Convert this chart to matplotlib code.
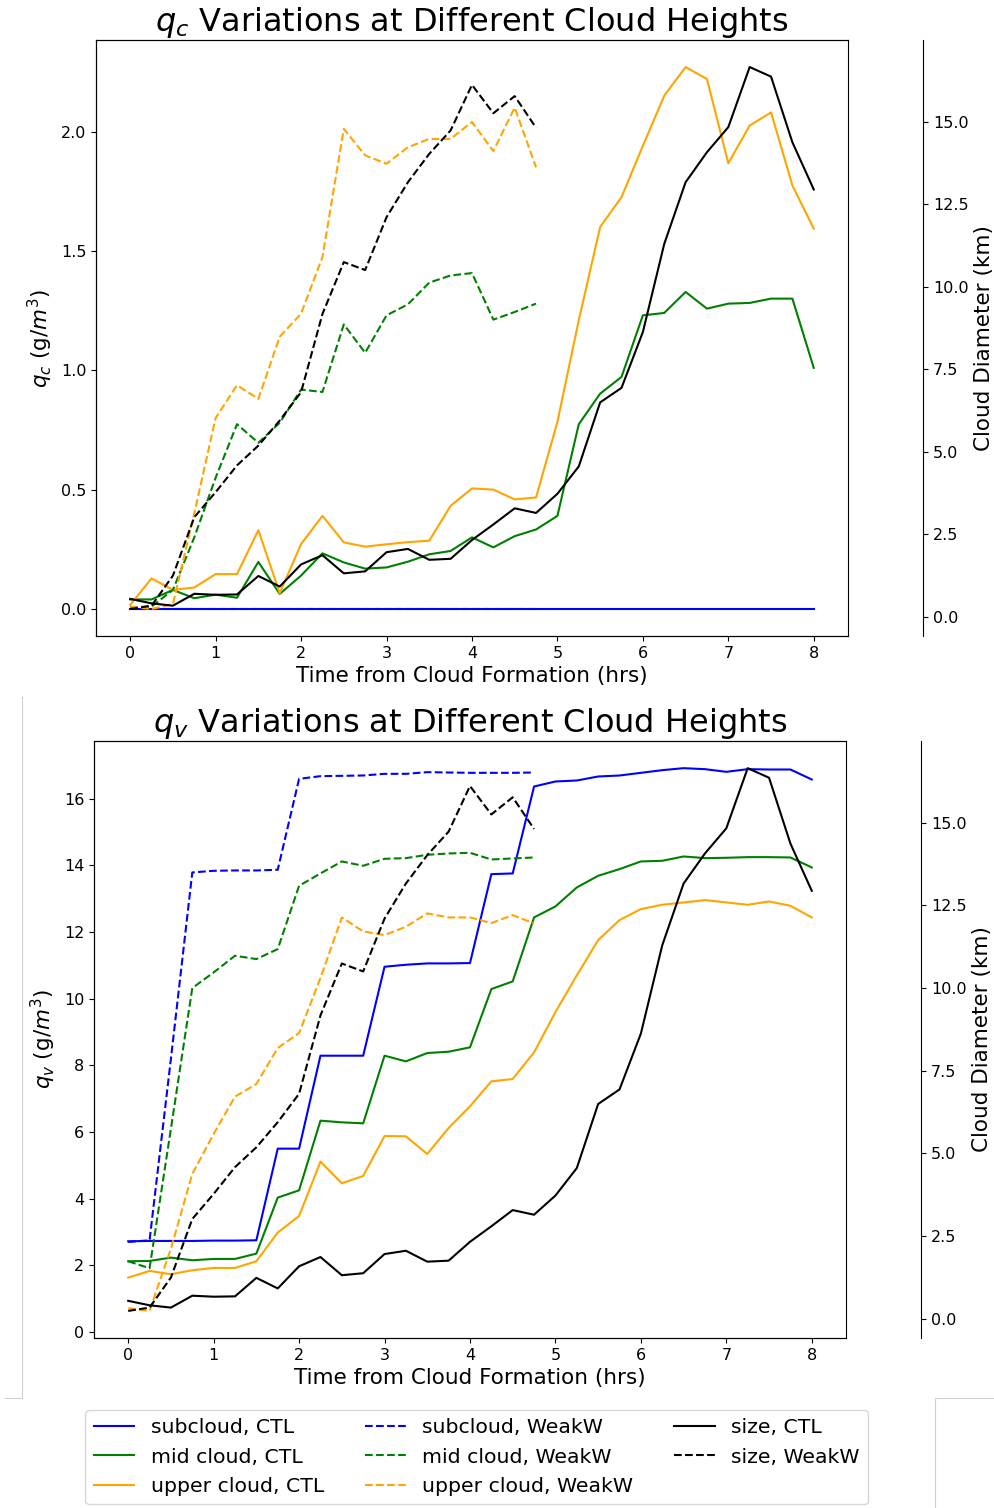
import numpy as np
import matplotlib
matplotlib.use("Agg")
import matplotlib.pyplot as plt
from matplotlib.lines import Line2D

# time axis (hrs since cloud formation), 15-min output
t_ctl = np.arange(0, 8.01, 0.25)
t_weak = np.arange(0, 4.76, 0.25)

# cloud water qc (g/m3)
qc_sub_ctl = [0.0, 0.0, 0.0, 0.0, 0.0, 0.0, 0.0, 0.0, 0.0, 0.0, 0.0,
              0.0, 0.0, 0.0, 0.0, 0.0, 0.0, 0.0, 0.0, 0.0, 0.0, 0.0,
              0.0, 0.0, 0.0, 0.0, 0.0, 0.0, 0.0, 0.0, 0.0, 0.0, 0.0]
qc_mid_ctl = [0.04, 0.04, 0.08, 0.045, 0.06, 0.047, 0.197, 0.063, 0.14, 0.233, 0.195,
              0.169, 0.174, 0.198, 0.229, 0.243, 0.30, 0.258, 0.305, 0.333, 0.39, 0.774,
              0.902, 0.972, 1.23, 1.24, 1.328, 1.258, 1.279, 1.282, 1.30, 1.30, 1.01]
qc_upper_ctl = [0.017, 0.128, 0.08, 0.09, 0.146, 0.146, 0.33, 0.066, 0.272, 0.39, 0.279,
                0.261, 0.271, 0.28, 0.286, 0.432, 0.505, 0.50, 0.459, 0.467, 0.784, 1.21,
                1.60, 1.725, 1.94, 2.15, 2.27, 2.22, 1.867, 2.025, 2.08, 1.774, 1.593]
qc_sub_weak = [0.0, 0.0, 0.0, 0.0, 0.0, 0.0, 0.0, 0.0, 0.0, 0.0,
               0.0, 0.0, 0.0, 0.0, 0.0, 0.0, 0.0, 0.0, 0.0, 0.0]
qc_mid_weak = [0.007, 0.01, 0.08, 0.30, 0.55, 0.774, 0.696, 0.78, 0.919, 0.909,
               1.192, 1.073, 1.23, 1.276, 1.367, 1.397, 1.407, 1.212, 1.244, 1.279]
qc_upper_weak = [0.01, 0.0, 0.02, 0.40, 0.80, 0.937, 0.88, 1.14, 1.237, 1.474,
                 2.011, 1.90, 1.865, 1.934, 1.969, 1.969, 2.04, 1.918, 2.10, 1.85]

# water vapour qv (g/m3)
qv_sub_ctl = [2.72, 2.73, 2.73, 2.73, 2.74, 2.74, 2.75, 5.50, 5.50, 8.29, 8.29,
              8.29, 10.96, 11.02, 11.06, 11.06, 11.07, 13.74, 13.76, 16.37, 16.52, 16.55,
              16.67, 16.70, 16.78, 16.86, 16.92, 16.89, 16.81, 16.89, 16.88, 16.88, 16.58]
qv_mid_ctl = [2.12, 2.13, 2.23, 2.15, 2.19, 2.19, 2.35, 4.03, 4.25, 6.34, 6.29,
              6.26, 8.29, 8.12, 8.37, 8.41, 8.54, 10.29, 10.52, 12.44, 12.77, 13.34,
              13.69, 13.89, 14.12, 14.14, 14.27, 14.22, 14.23, 14.25, 14.25, 14.24, 13.94]
qv_upper_ctl = [1.63, 1.83, 1.73, 1.85, 1.92, 1.92, 2.12, 2.98, 3.48, 5.11, 4.46,
                4.68, 5.88, 5.87, 5.34, 6.12, 6.77, 7.52, 7.59, 8.39, 9.60, 10.70,
                11.76, 12.36, 12.69, 12.82, 12.89, 12.96, 12.89, 12.82, 12.92, 12.79, 12.44]
qv_sub_weak = [2.70, 2.75, 8.20, 13.79, 13.84, 13.85, 13.85, 13.87, 16.60, 16.68,
               16.69, 16.70, 16.75, 16.75, 16.80, 16.79, 16.78, 16.78, 16.78, 16.79]
qv_mid_weak = [2.12, 1.91, 6.10, 10.32, 10.79, 11.29, 11.19, 11.49, 13.39, 13.76,
               14.12, 13.99, 14.20, 14.22, 14.32, 14.36, 14.38, 14.18, 14.21, 14.24]
qv_upper_weak = [0.71, 0.63, 2.50, 4.74, 5.94, 7.06, 7.44, 8.52, 8.97, 10.62,
                 12.44, 12.02, 11.91, 12.16, 12.56, 12.44, 12.44, 12.27, 12.51, 12.26]

# cloud diameter (km)
size_ctl = [0.535, 0.40, 0.33, 0.69, 0.66, 0.67, 1.23, 0.91, 1.58, 1.86, 1.31,
            1.37, 1.95, 2.05, 1.72, 1.75, 2.32, 2.79, 3.28, 3.14, 3.72, 4.55,
            6.49, 6.93, 8.62, 11.29, 13.16, 14.07, 14.83, 16.65, 16.36, 14.37, 12.94]
size_weak = [0.23, 0.33, 1.24, 3.01, 3.77, 4.58, 5.18, 5.94, 6.80, 9.17,
             10.74, 10.50, 12.10, 13.16, 14.02, 14.73, 16.11, 15.25, 15.77, 14.81]

levels = ["subcloud", "mid cloud", "upper cloud"]
colors = ["blue", "green", "orange"]

fig = plt.figure(figsize=(9.95, 15.08), dpi=100)
ax1 = fig.add_axes([0.0965, 0.5782, 0.7557, 0.3953])
ax2 = fig.add_axes([0.0945, 0.1127, 0.7557, 0.3959])


def panel(ax, ctl, weak, var):
    for lev, c, y in zip(levels, colors, ctl):
        ax.plot(t_ctl, y, color=c, lw=1.5, label=f"{lev}, CTL")
    for lev, c, y in zip(levels, colors, weak):
        ax.plot(t_weak, y, color=c, lw=1.5, ls="--", label=f"{lev}, WeakW")
    ax.set_title(f"${var}$ Variations at Different Cloud Heights", fontsize=23)
    ax.set_xlabel("Time from Cloud Formation (hrs)", fontsize=15.5)
    ax.set_ylabel(f"${var}$ (g/$m^3$)", fontsize=15.5)
    ax.tick_params(labelsize=11.5)

    tw = ax.twinx()
    tw.spines["right"].set_position(("axes", 1.1))
    tw.plot(t_ctl, size_ctl, color="black", lw=1.5, label="size, CTL")
    tw.plot(t_weak, size_weak, color="black", lw=1.5, ls="--", label="size, WeakW")
    tw.set_ylabel("Cloud Diameter (km)", fontsize=15.5)
    tw.tick_params(labelsize=11.5)
    return tw


panel(ax1, [qc_sub_ctl, qc_mid_ctl, qc_upper_ctl],
      [qc_sub_weak, qc_mid_weak, qc_upper_weak], "q_c")
tw2 = panel(ax2, [qv_sub_ctl, qv_mid_ctl, qv_upper_ctl],
            [qv_sub_weak, qv_mid_weak, qv_upper_weak], "q_v")

h1, l1 = ax2.get_legend_handles_labels()
h2, l2 = tw2.get_legend_handles_labels()
fig.legend(h1 + h2, l1 + l2, loc="lower center", ncol=3, fontsize=14.7,
           bbox_to_anchor=(0.479, 0.0), borderaxespad=0.2, columnspacing=2.0)

# thin page edges around the lower panel
for xs, ys in [([0.022, 0.022], [0.538, 0.073]), ([0.005, 0.022], [0.073, 0.073]),
               ([0.94, 0.94], [0.0, 0.073]), ([0.94, 1.0], [0.073, 0.073])]:
    fig.add_artist(Line2D(xs, ys, color="#d0d0d0", lw=0.8))

fig.savefig("out.png", dpi=100)
